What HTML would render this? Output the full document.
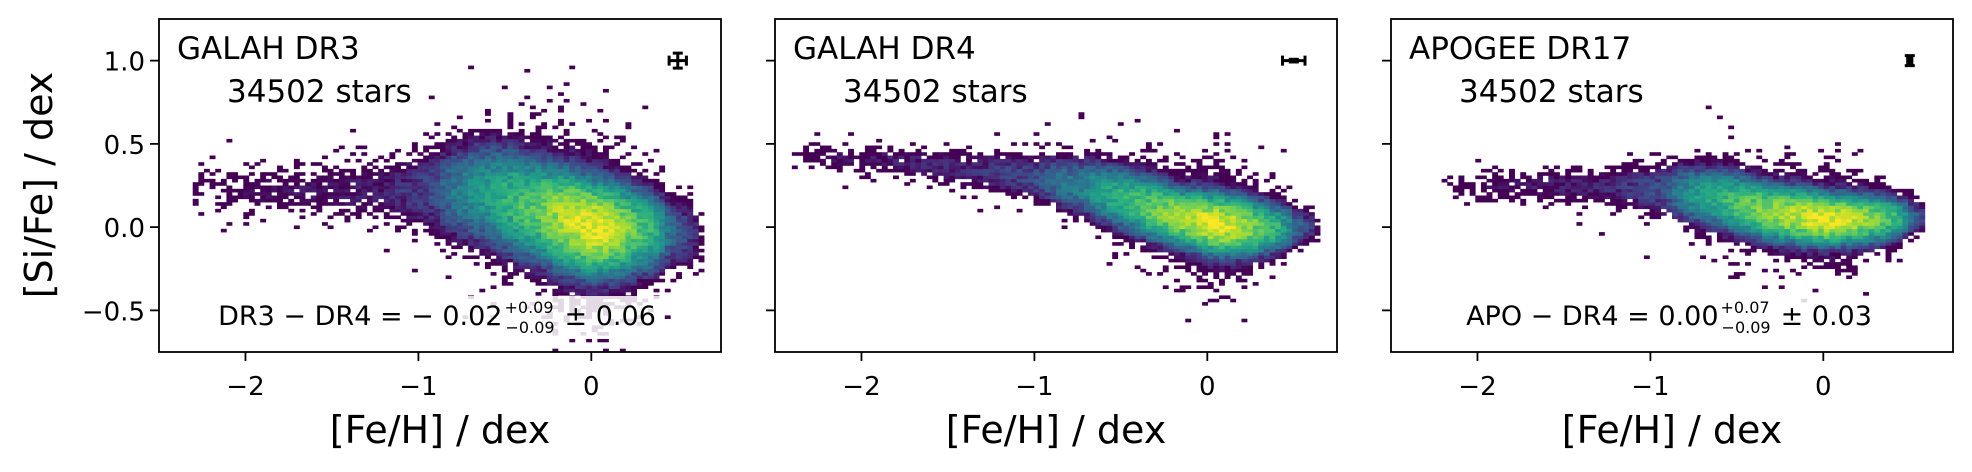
<!DOCTYPE html>
<html><head><meta charset="utf-8">
<style>
html,body{margin:0;padding:0;background:#fff;}
svg{display:block;font-family:"DejaVu Sans","Liberation Sans",sans-serif;}
</style></head>
<body>
<svg id="fig" width="1972" height="472" viewBox="0 0 1972 472" xmlns="http://www.w3.org/2000/svg">
<text x="52" y="185" font-size="38" text-anchor="middle" transform="rotate(-90 52 185)">[Si/Fe] / dex</text>
</svg>
<script>
// ---- data ----
const panelNames = ["GALAH DR3","GALAH DR4","APOGEE DR17"];
const starCounts = ["34502 stars","34502 stars","34502 stars"];
const xTicks = [-2,-1,0];
const xTickLabels = ["\u22122","\u22121","0"];
const yTicks = [1.0,0.5,0.0,-0.5];
const yTickLabels = ["1.0","0.5","0.0","\u22120.5"];
// ridge of the distribution per panel: [Fe/H] positions, [Si/Fe] centre, spread, peak count
const ridgeX1 = [-2.3,-2.0,-1.6,-1.2,-0.9,-0.6,-0.3,0.0,0.25,0.45,0.65];
const ridgeY1 = [0.25,0.22,0.22,0.22,0.22,0.20,0.10,0.0,-0.02,-0.03,-0.05];
const ridgeS1 = [0.08,0.08,0.09,0.10,0.13,0.14,0.13,0.11,0.11,0.10,0.10];
const ridgeA1 = [0.3,1,1.2,1.5,4,25,80,300,80,8,0.3];
const ridgeX2 = [-2.4,-2.2,-1.8,-1.4,-1.0,-0.7,-0.4,-0.15,0.05,0.3,0.5,0.65];
const ridgeY2 = [0.45,0.42,0.40,0.35,0.30,0.24,0.14,0.06,0.02,0.0,0.0,0.0];
const ridgeS2 = [0.05,0.05,0.05,0.06,0.07,0.08,0.08,0.07,0.07,0.07,0.06,0.05];
const ridgeA2 = [0.3,1,1.5,2,4,15,60,150,300,80,8,0.3];
const ridgeX3 = [-2.2,-1.9,-1.5,-1.2,-0.9,-0.6,-0.3,0.0,0.3,0.5,0.6];
const ridgeY3 = [0.27,0.25,0.25,0.24,0.22,0.17,0.09,0.05,0.05,0.06,0.06];
const ridgeS3 = [0.05,0.05,0.06,0.06,0.08,0.08,0.07,0.06,0.06,0.05,0.05];
const ridgeA3 = [0.3,1,1.5,2,5,40,120,300,100,10,0.5];
// typical uncertainties shown top right: [x, y, xerr, yerr]
const errBar1 = [0.5,1.0,0.05,0.045];
const errBar2 = [0.5,1.0,0.065,0.008];
const errBar3 = [0.5,1.0,0.012,0.03];
const diffLabels = [["DR3 \u2212 DR4 = \u2212 0.02","+0.09","\u22120.09","\u00b1 0.06"],
                    null,
                    ["APO \u2212 DR4 = 0.00","+0.07","\u22120.09","\u00b1 0.03"]];

// ---- layout ----
const NS="http://www.w3.org/2000/svg";
const svg=document.getElementById('fig');
const panelLeft=[159,775,1391], W=562, axTop=19, axBottom=352;
const xmin=-2.5,xmax=0.75,ymin=-0.75,ymax=1.25;
function xs(p,v){return panelLeft[p]+(v-xmin)/(xmax-xmin)*W;}
function ys(v){return axBottom-(v-ymin)/(ymax-ymin)*(axBottom-axTop);}
function el(t,a,parent){const e=document.createElementNS(NS,t);for(const k in a)e.setAttribute(k,a[k]);(parent||svg).appendChild(e);return e;}
const vir=["#440154","#482878","#3e4989","#31688e","#26828e","#1f9e89","#35b779","#6ece58","#b5de2b","#fde725"];
function hex(h){return [1,3,5].map(i=>parseInt(h.substr(i,2),16));}
function viridis(t){t=Math.max(0,Math.min(1,t));const f=t*(vir.length-1),i=Math.min(vir.length-2,Math.floor(f)),u=f-i;const a=hex(vir[i]),b=hex(vir[i+1]);return "rgb("+a.map((v,k)=>Math.round(v+(b[k]-v)*u)).join(",")+")";}
function interp(xa,ya,x){if(x<xa[0]||x>xa[xa.length-1])return null;for(let i=0;i<xa.length-1;i++){if(x<=xa[i+1]){const u=(x-xa[i])/(xa[i+1]-xa[i]);return ya[i]+(ya[i+1]-ya[i])*u;}}return ya[ya.length-1];}
function hash(a,b,c){const s=Math.sin(a*127.1+b*311.7+c*74.7)*43758.5453;return s-Math.floor(s);}
const ridges=[[ridgeX1,ridgeY1,ridgeS1,ridgeA1],[ridgeX2,ridgeY2,ridgeS2,ridgeA2],[ridgeX3,ridgeY3,ridgeS3,ridgeA3]];
const errs=[errBar1,errBar2,errBar3];
const NX=100,NY=100,dx=(xmax-xmin)/NX,dy=(ymax-ymin)/NY;

for(let p=0;p<3;p++){
  const g=el('g',{});
  
  
  const hm=el('g',{},g);
  
  
  const [rx,ry,rs,ra]=ridges[p];
  const cw=W/NX, ch=(axBottom-axTop)/NY;
  for(let i=0;i<NX;i++){
    const x=xmin+(i+0.5)*dx;
    const yc=interp(rx,ry,x); if(yc===null)continue;
    const sg=interp(rx,rs,x), am=interp(rx,ra,x);
    for(let j=0;j<NY;j++){
      const y=ymin+(j+0.5)*dy;
      const z=(y-yc)/sg;
      let n=am*(Math.exp(-0.5*z*z)+0.012*Math.exp(-0.5*z*z/6.25));
      n*=0.5+1.0*hash(i,j,p+1);
      if(n<1){ if(hash(j,i,p+7)>n*0.8) continue; n=1; }
      const t=Math.log(n)/Math.log(330);
      const r=el('rect',{x:(xs(p,xmin+i*dx)).toFixed(2),y:(ys(ymin+(j+1)*dy)).toFixed(2),width:(cw+0.3).toFixed(2),height:(ch+0.3).toFixed(2),fill:viridis(t)},hm);
      
      
    }
  }
  const fr=el('rect',{x:panelLeft[p],y:axTop,width:W,height:axBottom-axTop,fill:'none',stroke:'#000','stroke-width':1.8},g);
  
  
  for(let k=0;k<xTicks.length;k++){
    const X=xs(p,xTicks[k]);
    el('line',{x1:X,x2:X,y1:axBottom,y2:axBottom+9,stroke:'#000','stroke-width':1.8},g);
    const tl=el('text',{x:X,y:395,'font-size':26,'text-anchor':'middle'},g);
    tl.textContent=xTickLabels[k];
    
    
  }
  for(let k=0;k<yTicks.length;k++){
    const Y=ys(yTicks[k]);
    el('line',{x1:panelLeft[p]-9,x2:panelLeft[p],y1:Y,y2:Y,stroke:'#000','stroke-width':1.8},g);
    if(p===0){
      const tl=el('text',{x:panelLeft[p]-14,y:Y+10,'font-size':26,'text-anchor':'end'},g);
      tl.textContent=yTickLabels[k];
      
      
    }
  }
  const xl=el('text',{x:panelLeft[p]+W/2,y:443,'font-size':38,'text-anchor':'middle'},g);
  xl.textContent='[Fe/H] / dex';
  
  
  const t1=el('text',{x:panelLeft[p]+18,y:59,'font-size':31},g);
  t1.textContent=panelNames[p];
  
  
  const t2=el('text',{x:panelLeft[p]+68,y:102,'font-size':31},g);
  t2.textContent=starCounts[p];
  
  
  const [ex,ey,exe,eye]=errs[p];
  const eb=el('g',{stroke:'#000','stroke-width':3},g);
  
  
  const X0=xs(p,ex),Y0=ys(ey),X1=xs(p,ex-exe),X2=xs(p,ex+exe),Y1=ys(ey-eye),Y2=ys(ey+eye);
  el('line',{x1:X1,x2:X2,y1:Y0,y2:Y0},eb);
  el('line',{x1:X0,x2:X0,y1:Y1,y2:Y2},eb);
  el('line',{x1:X1,x2:X1,y1:Y0-5,y2:Y0+5},eb);
  el('line',{x1:X2,x2:X2,y1:Y0-5,y2:Y0+5},eb);
  el('line',{x1:X0-5,x2:X0+5,y1:Y1,y2:Y1},eb);
  el('line',{x1:X0-5,x2:X0+5,y1:Y2,y2:Y2},eb);
  const d=diffLabels[p];
  if(d){
    const bg=el('rect',{x:panelLeft[p]+W/2-240,y:298,width:480,height:42,fill:'#fff','fill-opacity':0.85},g);
    
    
    const tg=el('text',{x:panelLeft[p]+W/2-3,y:325,'font-size':27,'text-anchor':'middle'},g);
    
    
    const m=el('tspan',{},tg); m.textContent=d[0];
    const s1=el('tspan',{'font-size':16,dy:-12,dx:2},tg); s1.textContent=d[1];
    const s2=el('tspan',{'font-size':16,dy:20,dx:-48},tg); s2.textContent=d[2];
    const r=el('tspan',{dy:-8,dx:10},tg); r.textContent=d[3];
    try{const bb=tg.getBBox();bg.setAttribute('x',bb.x-4);bg.setAttribute('width',bb.width+8);bg.setAttribute('y',bb.y-2);bg.setAttribute('height',bb.height+4);}catch(e){}
  }
}
</script>
</body></html>
